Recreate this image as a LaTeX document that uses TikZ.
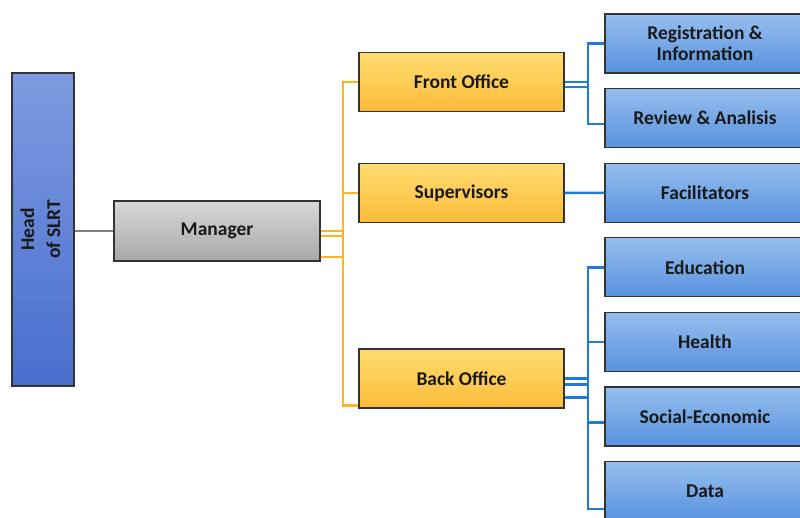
\documentclass[tikz,border=0pt]{standalone}
\usepackage{fontspec}
\setmainfont{Carlito}
\usetikzlibrary{positioning}

\definecolor{headtop}{RGB}{126,154,224}
\definecolor{headbot}{RGB}{72,110,206}
\definecolor{unittop}{RGB}{150,190,238}
\definecolor{unitbot}{RGB}{88,146,222}
\definecolor{offtop}{RGB}{255,220,112}
\definecolor{offbot}{RGB}{250,188,58}
\definecolor{mgrtop}{RGB}{216,216,216}
\definecolor{mgrbot}{RGB}{168,168,168}
\definecolor{orangeline}{RGB}{255,180,32}
\definecolor{blueline}{RGB}{32,122,216}

\begin{document}
\begin{tikzpicture}[x=1pt, y=-1pt,
    node distance=74.6pt,
    on grid,
    every node/.style={font=\bfseries\fontsize{19.5}{21}\selectfont, text=black!90},
    box/.style={rectangle, draw=black!80, line width=1.2pt, align=center, inner sep=2pt},
    headbox/.style={box, top color=headtop, bottom color=headbot, minimum width=62pt, minimum height=313pt},
    manager/.style={box, top color=mgrtop, bottom color=mgrbot, minimum width=206pt, minimum height=60pt},
    office/.style={box, top color=offtop, bottom color=offbot, minimum width=205pt, minimum height=59pt},
    unit/.style={box, top color=unittop, bottom color=unitbot, minimum width=200pt, minimum height=59pt},
    wire/.style={line width=2.2pt, black!50},
    feed/.style={line width=2.6pt, orangeline},
    link/.style={line width=2.6pt, blueline}
    ]
    \clip (0,0) rectangle (800,518);
    % Nodes
    \node[headbox] (head) at (43,229.5) {\rotatebox{90}{\begin{tabular}{@{}c@{}}Head\\[5pt]of SLRT\end{tabular}}};
    \node[manager] (mgr) at (217,231) {Manager};
    \node[office] (front) at (461.5,82) {Front Office};
    \node[office] (sup) at (461.5,193) {Supervisors};
    \node[office] (back) at (461.5,378.5) {Back Office};
    \node[unit] (reg) at (705,43.5) {Registration \&\\Information};
    \node[unit] (rev) [below=of reg] {Review \& Analisis};
    \node[unit] (fac) [below=of rev] {Facilitators};
    \node[unit] (edu) [below=of fac] {Education};
    \node[unit] (hea) [below=of edu] {Health};
    \node[unit] (soc) [below=of hea] {Social-Economic};
    \node[unit] (data) [below=of soc] {Data};
    % Buses
    \coordinate (obus) at (343,0);
    \coordinate (ubus) at (588,0);
    \coordinate (bo) at ([yshift=3pt]back.south west);
    \coordinate (rv) at ([yshift=-6pt]rev.west);
    \coordinate (dt) at ([yshift=-18pt]data.west);
    % Edges
    \draw[wire] (mgr.west) -- (mgr.west -| head.east);
    \foreach \dy in {0,5,26}
        \draw[feed] ([yshift=-\dy pt]mgr.east) -- ([yshift=-\dy pt]mgr.east -| obus);
    \draw[feed] (front.west) -| (obus |- bo) -- (bo);
    \draw[feed] (sup.west) -- (sup.west -| obus);
    \foreach \dy in {0,5}
        \draw[link] ([yshift=-\dy pt]front.east) -- ([yshift=-\dy pt]front.east -| ubus);
    \draw[link] (reg.west) -| (ubus |- rv) -- (rv);
    \path (sup) edge[link] (fac);
    \foreach \dy in {0,6,19}
        \draw[link] ([yshift=-\dy pt]back.east) -- ([yshift=-\dy pt]back.east -| ubus);
    \draw[link] (edu.west) -| (ubus |- dt) -- (dt);
    \draw[link] (hea.west) -- (hea.west -| ubus);
    \draw[link] ([yshift=-6pt]soc.west) -- ([yshift=-6pt]soc.west -| ubus);
\end{tikzpicture}
\end{document}
